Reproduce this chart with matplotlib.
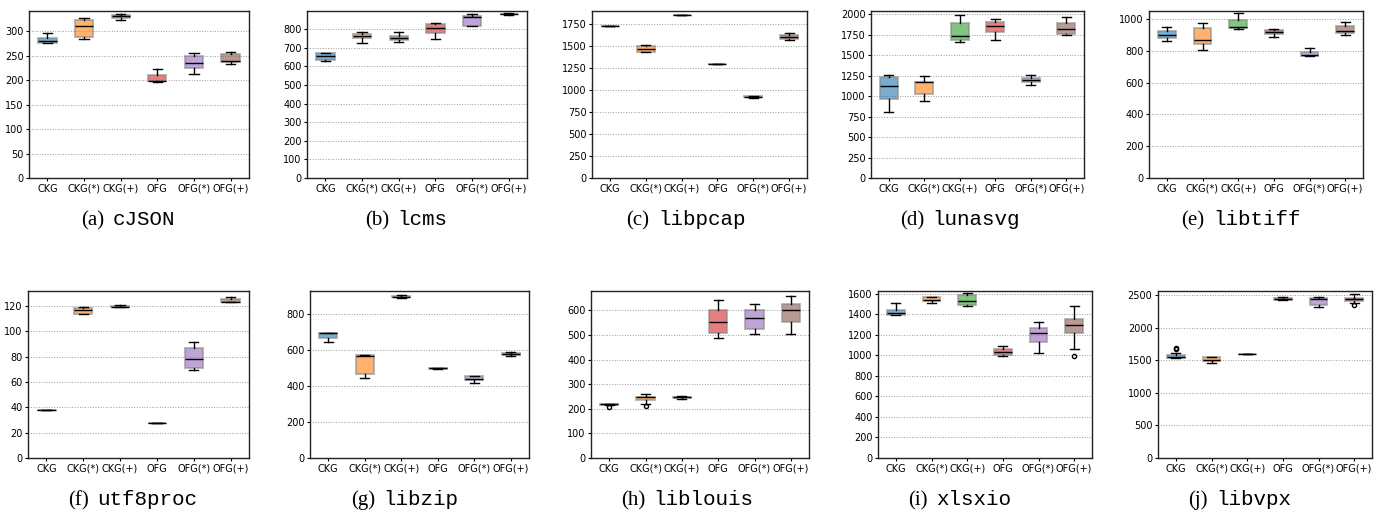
import matplotlib
matplotlib.use('Agg')
import numpy as np
import matplotlib.pyplot as plt
from matplotlib.offsetbox import TextArea, HPacker, AnnotationBbox

W, H = 1387, 514

groups = ['CKG', 'CKG(*)', 'CKG(+)', 'OFG', 'OFG(*)', 'OFG(+)']
colors = ['#1f77b4', '#ff7f0e', '#2ca02c', '#d62728', '#9467bd', '#8c564b']

# 每个子图: (whislo, q1, med, q3, whishi, fliers)
cjson = [(275, 276, 280, 286, 297, []), (284, 287, 311, 322, 326, []), (322, 326, 330, 333, 334, []),
         (197, 198, 199, 211, 223, []), (213, 224, 235, 250, 256, []), (233, 236, 239, 254, 258, [])]
lcms = [(631, 635, 655, 671, 674, []), (726, 750, 764, 773, 786, []), (732, 743, 753, 762, 784, []),
        (746, 777, 804, 827, 830, []), (814, 818, 866, 868, 879, []), (877, 879, 881, 882, 884, [])]
libpcap = [(1724, 1724, 1724, 1724, 1724, []), (1427, 1435, 1469, 1503, 1507, []), (1849, 1849, 1849, 1849, 1849, []),
           (1291, 1291, 1291, 1291, 1291, []), (910, 915, 922, 928, 935, []), (1564, 1579, 1606, 1629, 1651, [])]
lunasvg = [(805, 965, 1121, 1236, 1261, []), (936, 1031, 1170, 1175, 1248, []), (1667, 1684, 1733, 1897, 1988, []),
           (1688, 1786, 1852, 1906, 1947, []), (1138, 1179, 1203, 1224, 1253, []), (1745, 1762, 1815, 1889, 1967, [])]
libtiff = [(861, 878, 899, 924, 949, []), (804, 844, 871, 947, 975, []), (939, 945, 951, 996, 1038, []),
           (886, 907, 918, 932, 937, []), (770, 770, 772, 795, 819, []), (903, 913, 924, 956, 983, [])]
utf8proc = [(38, 38, 38, 38, 38, []), (114, 114.2, 117, 118.5, 119.3, []), (119, 119, 119.2, 120.5, 121.3, []),
            (28, 28, 28, 28, 28, []), (69.8, 70.8, 78.2, 87, 91.5, []), (123.3, 123.3, 123.5, 125.6, 127.1, [])]
libzip = [(644, 670, 695, 698, 698, []), (445, 467, 567, 575, 575, []), (891, 895, 899, 902, 906, []),
          (497, 498, 499, 501, 502, []), (420, 433, 441, 456, 459, []), (567, 575, 580, 584, 592, [])]
liblouis = [(214, 217, 218, 219, 220, [207]), (221, 237, 246, 250, 259, [210]), (240, 242, 246, 248, 251, []),
            (489, 509, 552, 603, 643, []), (506, 523, 571, 600, 626, []), (506, 554, 600, 627, 657, [])]
xlsxio = [(1390, 1393, 1409, 1442, 1514, []), (1505, 1524, 1537, 1564, 1570, []), (1482, 1485, 1531, 1590, 1603, []),
          (989, 1005, 1031, 1058, 1087, []), (1025, 1130, 1219, 1265, 1324, []), (1061, 1215, 1298, 1353, 1478, [992])]
libvpx = [(1535, 1540, 1545, 1585, 1620, [1670, 1690]), (1459, 1495, 1510, 1552, 1557, []), (1593, 1593, 1593, 1593, 1593, []),
          (2428, 2433, 2438, 2454, 2474, []), (2325, 2351, 2438, 2459, 2479, []), (2387, 2418, 2448, 2464, 2526, [2345])]

names = ['cJSON', 'lcms', 'libpcap', 'lunasvg', 'libtiff', 'utf8proc', 'libzip', 'liblouis', 'xlsxio', 'libvpx']
letters = ['a', 'b', 'c', 'd', 'e', 'f', 'g', 'h', 'i', 'j']
all_data = [cjson, lcms, libpcap, lunasvg, libtiff, utf8proc, libzip, liblouis, xlsxio, libvpx]
ytops = [341, 897, 1898, 2041, 1051, 132, 930, 679, 1626, 2567]
ysteps = [50, 100, 250, 250, 200, 20, 200, 100, 200, 500]

# 坐标轴位置 (像素: 左, 右, 上, 下)
boxes_px = [(29, 249, 11, 178), (307, 527, 11, 178), (592, 807, 11, 178), (871, 1084, 11, 178), (1149, 1363, 11, 178),
            (28, 249, 291, 458), (310, 529, 291, 458), (591, 809, 291, 458), (878, 1092, 291, 458), (1158, 1372, 291, 458)]
cap_x = [128, 406, 686, 960, 1241, 133, 405, 687, 960, 1240]
cap_y = [220, 220, 220, 220, 220, 500, 500, 500, 500, 500]

fig = plt.figure(figsize=(W / 100, H / 100), dpi=100)

for k in range(10):
    l, r, t, b = boxes_px[k]
    ax = fig.add_axes([l / W, 1 - b / H, (r - l) / W, (b - t) / H])
    stats = []
    for g, d in zip(groups, all_data[k]):
        stats.append(dict(label=g, whislo=d[0], q1=d[1], med=d[2], q3=d[3], whishi=d[4], fliers=d[5]))
    bp = ax.bxp(stats, widths=0.5, patch_artist=True,
                boxprops=dict(edgecolor='#888888', linewidth=1.4),
                medianprops=dict(color='black', linewidth=1.0),
                whiskerprops=dict(color='black', linewidth=1.0),
                capprops=dict(color='black', linewidth=1.0),
                flierprops=dict(marker='o', markersize=3, markerfacecolor='none', markeredgecolor='black'))
    for patch, c in zip(bp['boxes'], colors):
        patch.set_facecolor(c)
        patch.set_alpha(0.6)
    ax.set_ylim(0, ytops[k])
    ax.set_yticks(np.arange(0, ytops[k], ysteps[k]))
    ax.yaxis.grid(True, linestyle=':', color='#999999', linewidth=0.7)
    ax.set_axisbelow(True)
    ax.tick_params(axis='both', labelsize=7, length=2, pad=2)
    for s in ax.spines.values():
        s.set_linewidth(1.0)
        s.set_color('#222222')

    t1 = TextArea(f'({letters[k]})', textprops=dict(family='Liberation Serif', size=15))
    t2 = TextArea(names[k], textprops=dict(family='Liberation Mono', size=15))
    pack = HPacker(children=[t1, t2], pad=0, sep=6, align='baseline')
    ab = AnnotationBbox(pack, (cap_x[k] / W, 1 - cap_y[k] / H), xycoords='figure fraction',
                        frameon=False, box_alignment=(0.5, 0.5))
    fig.add_artist(ab)

plt.savefig('out.png', dpi=100)
